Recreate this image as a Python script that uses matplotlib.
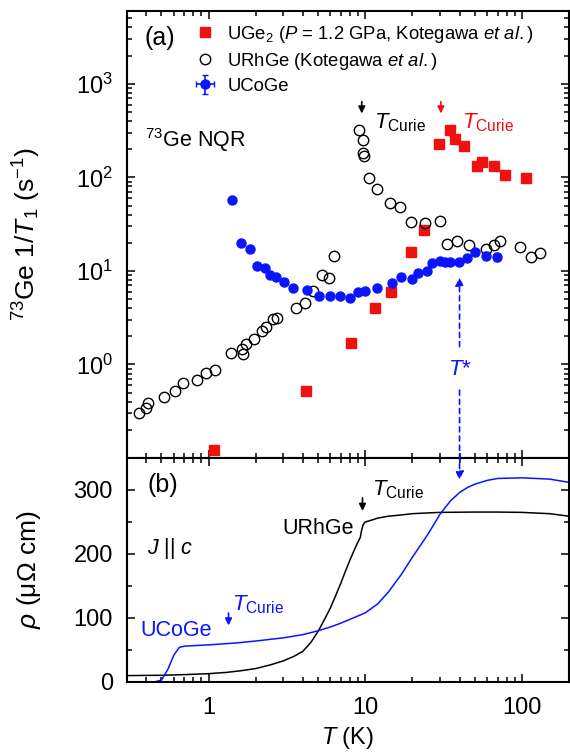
import numpy as np
import matplotlib
matplotlib.use('Agg')
import matplotlib.pyplot as plt
from matplotlib.ticker import LogLocator, MultipleLocator, NullFormatter

plt.rcParams['font.family'] = ['Liberation Sans', 'DejaVu Sans']
plt.rcParams['mathtext.fontset'] = 'custom'
plt.rcParams['mathtext.rm'] = 'Liberation Sans'
plt.rcParams['mathtext.it'] = 'Liberation Sans:italic'
plt.rcParams['mathtext.bf'] = 'Liberation Sans:bold'

BLUE = '#0a14ff'
RED = '#f01010'

# (a) 73Ge NQR 1/T1
uge2_T = [1.09, 4.16, 8.07, 11.6, 14.5, 19.7, 23.8, 29.6, 34.8, 37.3, 42.5, 51.6, 55.6, 66.2, 77.8, 106]
uge2_rate = [0.122, 0.514, 1.71, 4.04, 5.99, 16.0, 27.3, 229, 324, 259, 218, 133, 145, 131, 107, 99.3]

urhge_T = [0.358, 0.401, 0.411, 0.516, 0.607, 0.682, 0.841, 0.960, 1.095, 1.39, 1.625, 1.663,
           1.722, 1.954, 2.198, 2.34, 2.58, 2.75, 3.59, 4.10, 4.63, 5.28, 5.85, 6.36,
           9.07, 9.61, 9.61, 9.81, 10.6, 11.8, 14.4, 16.6, 19.6, 23.9, 30.1, 33.5, 38.8,
           45.7, 58.9, 66.6, 73.0, 96.9, 114, 131]
urhge_rate = [0.301, 0.341, 0.386, 0.447, 0.518, 0.637, 0.674, 0.807, 0.877, 1.334, 1.472, 1.30,
              1.636, 1.883, 2.254, 2.506, 3.03, 3.16, 3.97, 4.57, 6.04, 9.02, 8.31, 14.6,
              324, 249, 184, 171, 99.3, 75, 52.7, 48.1, 33.0, 32.5, 34.1, 19.2, 20.8,
              18.9, 17.1, 19.1, 20.8, 18.0, 14.2, 15.4]

ucoge_T = [1.41, 1.615, 1.834, 2.04, 2.285, 2.48, 2.71, 3.03, 3.45, 4.24, 5.03, 5.97, 6.94,
           8.0, 8.93, 10.0, 11.9, 14.9, 16.9, 19.9, 21.8, 24.9, 26.8, 29.8, 32.1, 35.0,
           39.9, 44.4, 49.9, 58.9, 69.2]
ucoge_rate = [57.2, 19.7, 17.0, 11.2, 10.7, 8.95, 8.52, 7.53, 6.55, 6.30, 5.43, 5.43, 5.43,
              5.12, 5.89, 6.08, 6.55, 7.48, 8.67, 8.17, 9.47, 9.88, 12.2, 12.7, 12.3, 12.6,
              12.5, 13.9, 15.8, 14.6, 14.2]
ucoge_Terr = [0, 0, 0, 0, 0, 0, 0, 0, 0, 0, 0, 0, 0,
              0, 0, 0, 0, 0, 0, 0, 0, 0, 0.8, 0.9, 1.0, 1.1,
              1.3, 1.5, 1.7, 2.2, 2.6]
ucoge_rerr = [0, 0, 0, 0, 0, 0, 0, 0, 0, 0, 0, 0, 0,
              0, 0, 0, 0, 0, 0, 0, 0, 0, 0.6, 0.6, 0.6, 0.6,
              0.7, 0.8, 0.9, 1.2, 1.3]

# (b) resistivity J || c
rho_urhge_T = [0.3, 0.5, 0.7, 1.0, 1.3, 1.6, 2.0, 2.5, 3.0, 3.5, 4.0, 4.5, 5.0, 5.5, 6.0, 6.5,
               7.0, 7.5, 8.0, 8.5, 9.0, 9.3, 9.5, 9.7, 10, 11, 12, 14, 17, 20, 30, 50, 70,
               100, 150, 200]
rho_urhge = [10, 10.5, 11.5, 13, 15, 17.5, 21, 27, 33, 40, 48, 62, 79, 98, 116, 136,
             155, 174, 191, 206, 219, 226, 238, 246, 250, 253, 256, 259, 261, 263, 265, 265.5, 265.5,
             265, 263, 259]

rho_ucoge_T = [0.45, 0.5, 0.55, 0.6, 0.65, 0.7, 1.0, 1.5, 2.0, 3.0, 4.0, 5.0, 6.0, 7.0, 8.0,
               10, 12, 14, 17, 20, 25, 30, 35, 40, 45, 50, 60, 70, 100, 150, 200]
rho_ucoge = [0, 3, 20, 42, 54, 56, 58, 61, 64, 69, 74, 80, 86, 92, 98,
             108, 122, 140, 168, 195, 230, 262, 283, 296, 304, 309, 315, 318, 319, 317, 312]

T_curie_urhge = 9.5
T_curie_uge2 = 30.4
T_curie_ucoge = 1.34
T_star = 40

fig = plt.figure(figsize=(5.7, 7.55), dpi=100)
ax1 = fig.add_axes([0.2223, 0.3934, 0.776, 0.5920])
ax2 = fig.add_axes([0.2223, 0.0967, 0.776, 0.2967], sharex=ax1)

h_uge2, = ax1.plot(uge2_T, uge2_rate, 's', color=RED, ms=7, mec=RED, ls='none')
h_urhge, = ax1.plot(urhge_T, urhge_rate, 'o', mfc='none', mec='k', mew=1.0, ms=7.5, ls='none')
h_ucoge = ax1.errorbar(ucoge_T, ucoge_rate, xerr=ucoge_Terr, yerr=ucoge_rerr, fmt='o',
                       color=BLUE, ms=6.5, elinewidth=1.2, capsize=2, ls='none')

ax1.set_xscale('log')
ax1.set_yscale('log')
ax1.set_xlim(0.3, 200)
ax1.set_ylim(0.1, 6000)
ax1.set_yticks([1, 10, 100, 1000])
ax1.yaxis.set_minor_locator(LogLocator(base=10, subs=np.arange(2, 10), numticks=20))
ax1.yaxis.set_minor_formatter(NullFormatter())
ax1.tick_params(labelbottom=False)
ax1.set_ylabel(r'$^{73}$Ge 1/$T_1$ (s$^{-1}$)', fontsize=19)
ax1.yaxis.set_label_coords(-0.19, 0.5)

ax1.legend([h_uge2, h_urhge, h_ucoge],
           [r'UGe$_2$ ($P$ = 1.2 GPa, Kotegawa $et$ $al.$)',
            r'URhGe (Kotegawa $et$ $al.$)', 'UCoGe'],
           loc='upper left', bbox_to_anchor=(0.148, 0.972), frameon=False, fontsize=13.3,
           handlelength=1.4, handletextpad=0.5, labelspacing=0.33, borderaxespad=0,
           borderpad=0)

ax1.text(0.041, 0.94, '(a)', transform=ax1.transAxes, fontsize=18, va='center')
ax1.text(0.041, 0.711, r'$^{73}$Ge NQR', transform=ax1.transAxes, fontsize=15.5, va='center')

ax1.annotate('', xy=(T_curie_urhge, 450), xytext=(T_curie_urhge, 690),
             arrowprops=dict(arrowstyle='-|>', color='k', lw=1.2, mutation_scale=10))
ax1.text(11.3, 334, r'$T_{\rm Curie}$', fontsize=16, va='baseline')
ax1.annotate('', xy=(T_curie_uge2, 450), xytext=(T_curie_uge2, 690),
             arrowprops=dict(arrowstyle='-|>', color=RED, lw=1.2, mutation_scale=10))
ax1.text(41.3, 334, r'$T_{\rm Curie}$', fontsize=16, va='baseline', color=RED)

# T* dashed arrows
ax1.annotate('', xy=(T_star, 8.5), xytext=(T_star, 1.55),
             arrowprops=dict(arrowstyle='-|>', color=BLUE, lw=1.2, ls=(0, (3, 2.5)),
                             mutation_scale=12, shrinkA=0, shrinkB=0))
ax1.text(T_star, 0.88, r'$T$*', fontsize=16, color=BLUE, ha='center', va='center')

ax2.plot(rho_urhge_T, rho_urhge, '-', color='k', lw=1.1)
ax2.plot(rho_ucoge_T, rho_ucoge, '-', color=BLUE, lw=1.1)
ax2.set_ylim(0, 350)
ax2.set_yticks([0, 100, 200, 300])
ax2.yaxis.set_minor_locator(MultipleLocator(50))
ax2.set_xticks([1, 10, 100])
ax2.set_xticklabels(['1', '10', '100'])
ax2.set_xlabel(r'$T$ (K)', fontsize=17, labelpad=4)
ax2.set_ylabel(r'$\rho$ (μΩ cm)', fontsize=19)
ax2.yaxis.set_label_coords(-0.19, 0.5)

ax2.annotate('', xy=(T_star, 316), xycoords='data', xytext=(T_star, 0.53), textcoords=ax1.transData,
             arrowprops=dict(arrowstyle='-|>', color=BLUE, lw=1.2, ls=(0, (3, 2.5)),
                             mutation_scale=12, shrinkA=0, shrinkB=0), annotation_clip=False)

ax2.text(0.405, 308, '(b)', fontsize=18, va='center')
ax2.text(0.405, 209, r'$J$ || $c$', fontsize=15.5, va='center')
ax2.text(2.96, 240, 'URhGe', fontsize=15.5, va='center')
ax2.text(0.365, 80, 'UCoGe', fontsize=15.5, va='center', color=BLUE)
ax2.annotate('', xy=(9.6, 263), xytext=(9.6, 292),
             arrowprops=dict(arrowstyle='-|>', color='k', lw=1.2, mutation_scale=10))
ax2.text(11.0, 292, r'$T_{\rm Curie}$', fontsize=16, va='baseline')
ax2.annotate('', xy=(T_curie_ucoge, 84), xytext=(T_curie_ucoge, 112),
             arrowprops=dict(arrowstyle='-|>', color=BLUE, lw=1.2, mutation_scale=10))
ax2.text(1.41, 112, r'$T_{\rm Curie}$', fontsize=16, va='baseline', color=BLUE)

for ax in (ax1, ax2):
    for s in ax.spines.values():
        s.set_linewidth(1.5)
    ax.tick_params(which='both', direction='in', top=True, right=True, labelsize=17, width=1.1)
    ax.tick_params(which='major', length=6)
    ax.tick_params(which='minor', length=3.5)
    ax.tick_params(axis='y', pad=10)
    ax.tick_params(axis='x', pad=11)
    ax.xaxis.set_minor_formatter(NullFormatter())

fig.savefig('out.png', dpi=100)
